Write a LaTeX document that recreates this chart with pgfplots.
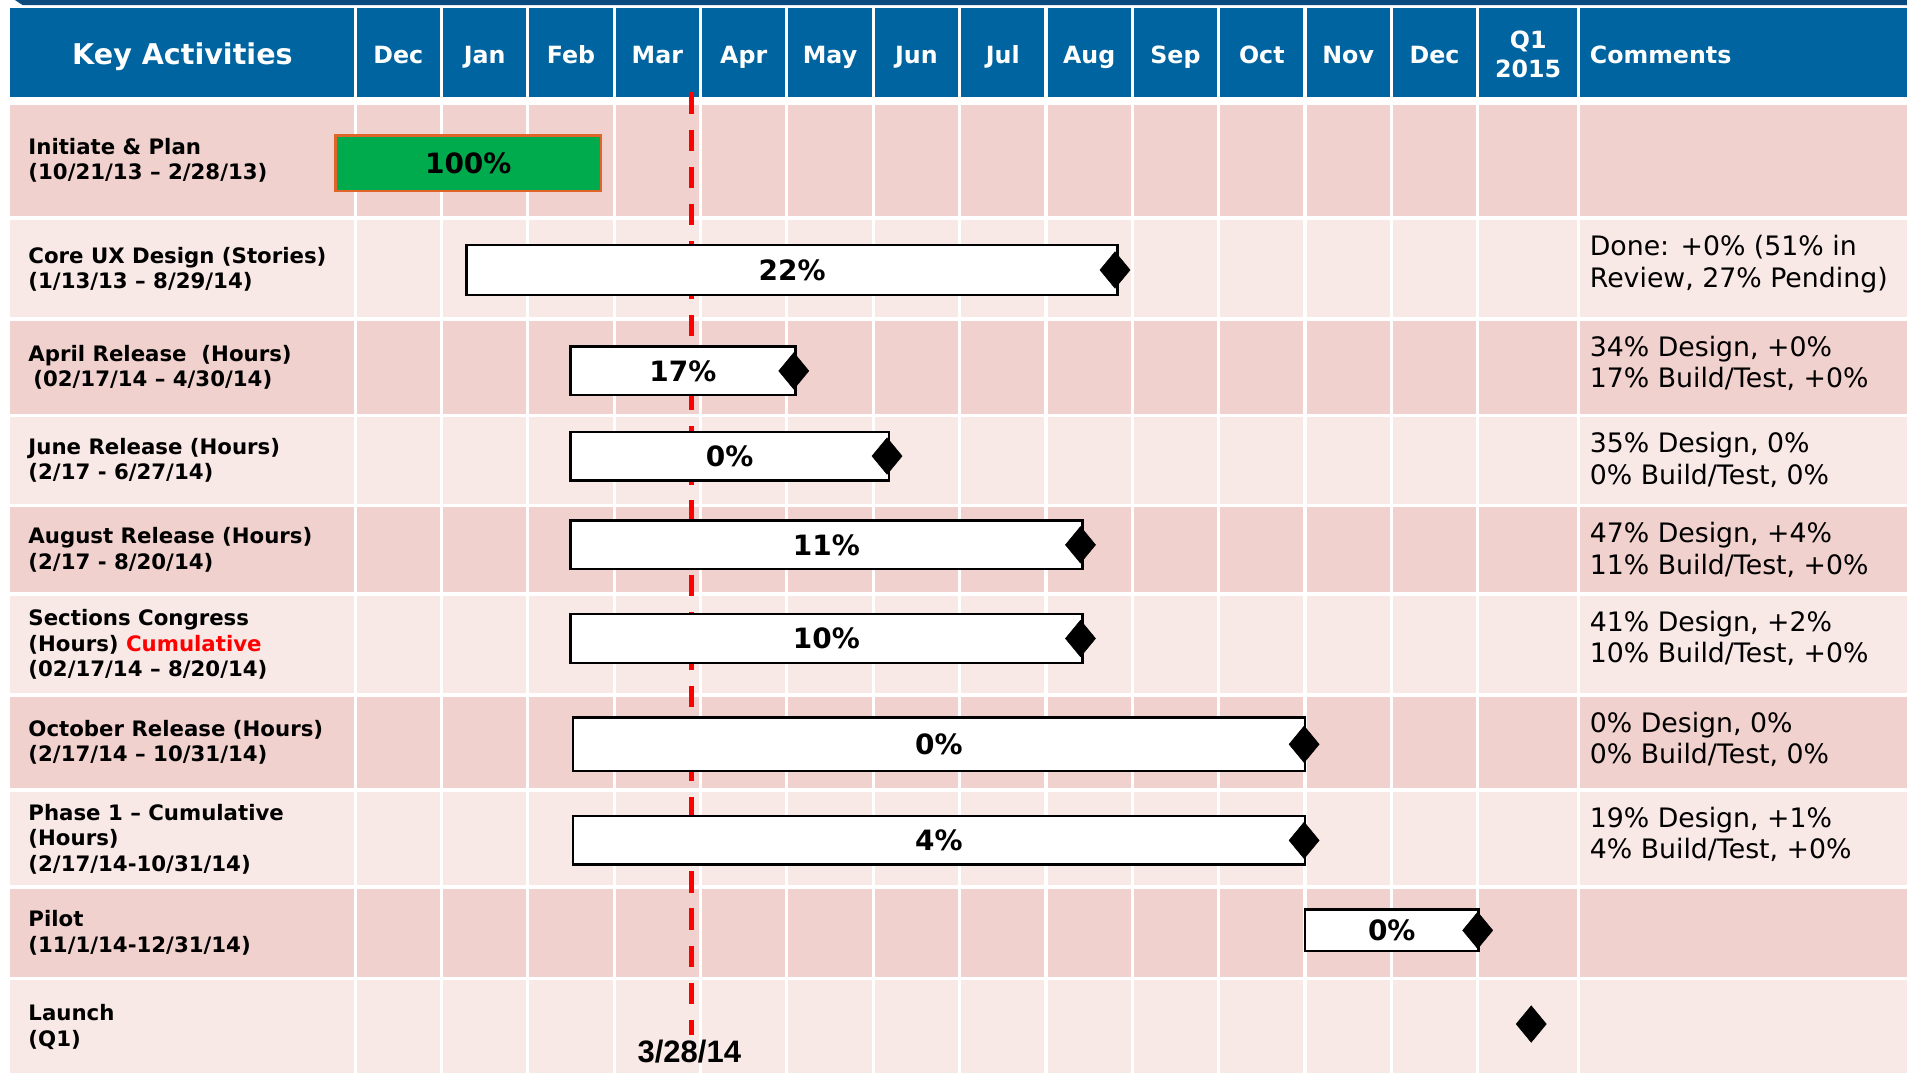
\documentclass[border=0pt]{standalone}
\usepackage{pgfplots}
\pgfplotsset{compat=1.18}
\usepackage{fontspec}
\setmainfont{DejaVu Sans}
\newfontfamily\arialfont{Liberation Sans}
\definecolor{hdr}{HTML}{0064A0}
\definecolor{topband}{HTML}{0A4A7E}
\definecolor{rowA}{HTML}{F0D1CD}
\definecolor{rowB}{HTML}{F8E8E6}
\definecolor{bargreen}{HTML}{00AB4E}
\definecolor{barorange}{HTML}{E0652A}
\newcommand\lab[2]{\node[anchor=west,align=left,inner sep=0pt,font=\fontsize{17.5}{21}\selectfont\bfseries] at (axis cs:-3.786,#1) {#2};}
\newcommand\com[3]{%
  \node[anchor=base west,inner sep=0pt,font=\fontsize{22}{26}\selectfont] at (axis cs:14.296,#1+29) {#2};
  \node[anchor=base west,inner sep=0pt,font=\fontsize{22}{26}\selectfont] at (axis cs:14.296,#1+55) {#3};}
\newcommand\mon[2]{\node[anchor=base,inner sep=0pt,text=white,font=\fontsize{19.5}{23}\selectfont\bfseries] at (axis cs:#1,52) {#2};}
\newcommand\ganttbar[5]{%
  \addplot[fill=white,draw=black,line width=2pt] coordinates {(#1,#3) (#2,#3) (#2,#4) (#1,#4)} -- cycle;
  \node[inner sep=0pt,font=\fontsize{23}{27}\selectfont\bfseries] at (axis cs:{(#1+#2)/2},{(#3+#4)/2}) {#5};}
\begin{document}
\begin{tikzpicture}
\begin{axis}[scale only axis, width=1568pt, height=882pt,
  xmin=-4.1127, xmax=17.9718, ymin=0, ymax=882, y dir=reverse,
  hide axis, clip=false]
% full picture extent
\coordinate (BL) at (axis cs:-4.1127,882);
\coordinate (TR) at (axis cs:17.9718,0);
% top band and header
\fill[topband] (axis cs:-3.94,0) -- (axis cs:17.9718,0) -- (axis cs:17.9718,4.2) -- (axis cs:-3.85,4.2) -- cycle;
\fill[hdr] (axis cs:-4.0,6.6) rectangle (axis cs:17.9718,80);
% rows
\fill[rowA] (axis cs:-4.0,86) rectangle (axis cs:17.9718,178);
\fill[rowB] (axis cs:-4.0,181) rectangle (axis cs:17.9718,261);
\fill[rowA] (axis cs:-4.0,264) rectangle (axis cs:17.9718,340);
\fill[rowB] (axis cs:-4.0,343) rectangle (axis cs:17.9718,414);
\fill[rowA] (axis cs:-4.0,417) rectangle (axis cs:17.9718,487);
\fill[rowB] (axis cs:-4.0,490) rectangle (axis cs:17.9718,570);
\fill[rowA] (axis cs:-4.0,573) rectangle (axis cs:17.9718,648);
\fill[rowB] (axis cs:-4.0,651) rectangle (axis cs:17.9718,728);
\fill[rowA] (axis cs:-4.0,731) rectangle (axis cs:17.9718,803);
\fill[rowB] (axis cs:-4.0,806) rectangle (axis cs:17.9718,882);
% vertical white separators
\pgfplotsinvokeforeach{0,1,2,3,4,5,6,7,8,9,10,11,12,13,14.169}{
  \draw[white,line width=2.6pt] (axis cs:#1,6.6) -- (axis cs:#1,882);
}
% header text
\node[anchor=base,inner sep=0pt,text=white,font=\fontsize{23.5}{27}\selectfont\bfseries] at (axis cs:-2.0,53) {Key Activities};
\mon{0.5}{Dec}\mon{1.5}{Jan}\mon{2.5}{Feb}\mon{3.5}{Mar}\mon{4.5}{Apr}\mon{5.5}{May}
\mon{6.5}{Jun}\mon{7.5}{Jul}\mon{8.5}{Aug}\mon{9.5}{Sep}\mon{10.5}{Oct}\mon{11.5}{Nov}\mon{12.5}{Dec}
\node[anchor=base,inner sep=0pt,text=white,font=\fontsize{19.5}{23}\selectfont\bfseries] at (axis cs:13.585,40) {Q1};
\node[anchor=base,inner sep=0pt,text=white,font=\fontsize{19.5}{23}\selectfont\bfseries] at (axis cs:13.585,64) {2015};
\node[anchor=base west,inner sep=0pt,text=white,font=\fontsize{19.5}{23}\selectfont\bfseries] at (axis cs:14.296,52) {Comments};
% row labels
\lab{132}{Initiate \& Plan\\(10/21/13 – 2/28/13)}
\lab{221.5}{Core UX Design (Stories)\\(1/13/13 – 8/29/14)}
\lab{302}{April Release\ \ (Hours)\\\hspace*{4pt}(02/17/14 – 4/30/14)}
\lab{378.5}{June Release (Hours)\\(2/17 - 6/27/14)}
\lab{452}{August Release (Hours)\\(2/17 - 8/20/14)}
\lab{530}{Sections Congress\\(Hours) {\color{red}Cumulative}\\(02/17/14 – 8/20/14)}
\lab{610.5}{October Release (Hours)\\(2/17/14 – 10/31/14)}
\lab{690}{Phase 1 – Cumulative\\(Hours)\\(2/17/14-10/31/14)}
\lab{767}{Pilot\\(11/1/14-12/31/14)}
\lab{844.5}{Launch\\(Q1)}
% comments
\com{181}{Done: +0\% (51\% in}{Review, 27\% Pending)}
\com{264}{34\% Design, +0\%}{17\% Build/Test, +0\%}
\com{343}{35\% Design, 0\%}{0\% Build/Test, 0\%}
\com{417}{47\% Design, +4\%}{11\% Build/Test, +0\%}
\com{490}{41\% Design, +2\%}{10\% Build/Test, +0\%}
\com{573}{0\% Design, 0\%}{0\% Build/Test, 0\%}
\com{651}{19\% Design, +1\%}{4\% Build/Test, +0\%}
% today line
\addplot[red,line width=4pt,dash pattern=on 17.5pt off 13pt] coordinates {(3.9,76) (3.9,851)};
\node[anchor=base,inner sep=0pt,font=\arialfont\fontsize{25.5}{28}\selectfont\bfseries] at (axis cs:3.87,874) {3/28/14};
% bars
\addplot[fill=bargreen,draw=barorange,line width=2pt] coordinates {(-0.225,111.5) (2.845,111.5) (2.845,157) (-0.225,157)} -- cycle;
\node[inner sep=0pt,font=\fontsize{23}{27}\selectfont\bfseries] at (axis cs:1.31,134.5) {100\%};
\ganttbar{1.29}{8.83}{201.5}{242.5}{22\%}
\ganttbar{2.493}{5.099}{285}{325}{17\%}
\ganttbar{2.493}{6.183}{355}{395}{0\%}
\ganttbar{2.493}{8.423}{428}{468}{11\%}
\ganttbar{2.493}{8.423}{505}{545}{10\%}
\ganttbar{2.52}{11.0}{590}{634}{0\%}
\ganttbar{2.52}{11.0}{671}{711}{4\%}
\ganttbar{11.0}{13.01}{748}{782}{0\%}
% milestones
\addplot[only marks,mark=diamond*,mark size=15pt,black,mark options={xscale=1.1}] coordinates {
 (8.80,222) (5.08,305) (6.16,375) (8.40,448) (8.40,525) (10.99,612) (10.99,691) (13.0,765) (13.62,842)};
\end{axis}
\pgfresetboundingbox
\path[use as bounding box] (BL) rectangle (TR);
\end{tikzpicture}
\end{document}
